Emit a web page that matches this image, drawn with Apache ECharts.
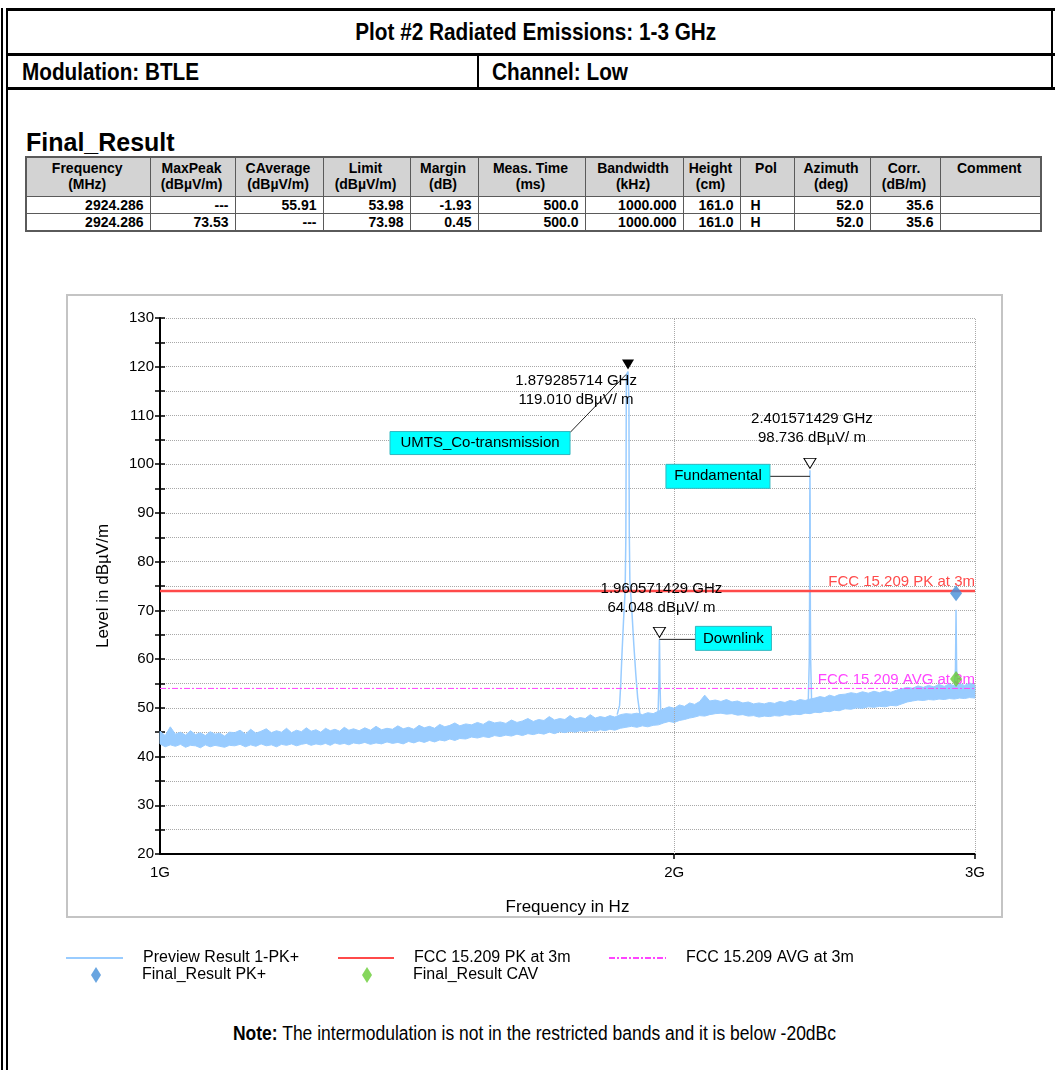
<!DOCTYPE html>
<html><head><meta charset="utf-8">
<script src="https://cdn.jsdelivr.net/npm/echarts@6/dist/echarts.min.js"></script>
<style>
html,body{margin:0;padding:0;background:#fff;}
body{width:1055px;height:1070px;position:relative;overflow:hidden;font-family:"Liberation Sans",Arial,sans-serif;color:#000;}
.abs{position:absolute;}
.bar{position:absolute;background:#000;}
.fit{display:inline-block;white-space:nowrap;}
#tbl{position:absolute;left:25px;top:156px;border-collapse:collapse;table-layout:fixed;font-weight:bold;font-size:14px;line-height:16px;border:2px solid #5a5a5a;}
#tbl td,#tbl th{border:1px solid #5a5a5a;padding:0 6px 0 4px;white-space:pre;overflow:hidden;}
#tbl th{background:#d3d3d3;text-align:center;vertical-align:top;height:36px;padding-top:2px;font-weight:bold;}
#tbl td{text-align:right;height:16px;}
#tbl td.l{text-align:left;padding-left:10px;}
</style></head><body>
<div class="bar" style="left:1px;top:8px;width:2px;height:1062px"></div>
<div class="bar" style="left:6px;top:8px;width:2px;height:1062px"></div>
<div class="bar" style="left:6px;top:8px;width:1049px;height:3px"></div>
<div class="bar" style="left:1051px;top:8px;width:2px;height:82px"></div>
<div class="abs" style="left:14px;top:11px;width:1043px;height:42px;line-height:42px;text-align:center;font-weight:bold;font-size:24px"><span class="fit" id="title" style="transform-origin:50% 50%"></span></div>
<div class="bar" style="left:6px;top:53px;width:1049px;height:3px"></div>
<div class="abs" style="left:22px;top:56px;height:31px;line-height:31px;font-weight:bold;font-size:24px"><span class="fit" id="mod" style="transform-origin:0 50%"></span></div>
<div class="bar" style="left:477px;top:56px;width:2px;height:32px"></div>
<div class="abs" style="left:492px;top:56px;height:31px;line-height:31px;font-weight:bold;font-size:24px"><span class="fit" id="chan" style="transform-origin:0 50%"></span></div>
<div class="bar" style="left:6px;top:87px;width:1049px;height:3px"></div>
<div class="abs" id="frTitle" style="left:26px;top:128px;font-weight:bold;font-size:25px;line-height:28px"></div>
<table id="tbl"></table>
<div id="chart" class="abs" style="left:0;top:280px;width:1055px;height:730px"></div>
<div class="abs" style="left:233px;top:1021px;font-size:20px;line-height:24px"><span class="fit" id="note" style="transform-origin:0 50%"></span></div>
<script>
// ---------- text content ----------
const titleText = 'Plot #2 Radiated Emissions: 1-3 GHz';
const modulationText = 'Modulation: BTLE';
const channelText = 'Channel: Low';
const finalResultTitle = 'Final_Result';
const noteBold = 'Note:';
const noteText = ' The intermodulation is not in the restricted bands and it is below -20dBc';

// ---------- Final_Result table ----------
const tableHeader = ['Frequency\n(MHz)','MaxPeak\n(dBµV/m)','CAverage\n(dBµV/m)','Limit\n(dBµV/m)','Margin\n(dB)','Meas. Time\n(ms)','Bandwidth\n(kHz)','Height\n(cm)','Pol','Azimuth\n(deg)','Corr.\n(dB/m)','Comment'];
const tableRows = [
  ['2924.286','---','55.91','53.98','-1.93','500.0','1000.000','161.0','H','52.0','35.6',''],
  ['2924.286','73.53','---','73.98','0.45','500.0','1000.000','161.0','H','52.0','35.6','']
];
const tableColWidths = [124,85,88,87,68,107,98,57,54,76,70,101];

// ---------- chart data ----------
// noise floor of "Preview Result 1-PK+" read as min/max envelope (MHz, dBµV/m)
const bandFreqMHz = [1000,1007,1014,1021,1028,1035,1042,1049,1056,1063,1070,1077,1084,1091,1098,
 1106,1114,1122,1130,1138,1146,1154,1162,1170,1178,1186,1194,1202,1210,1218,1226,1234,1242,1250,1258,1266,1274,1282,1290,1298,
 1308,1318,1328,1338,1348,1358,1368,1378,1388,1398,1408,1418,1428,1438,1448,1458,1468,1478,1488,1498,
 1510,1522,1534,1546,1558,1570,1582,1594,1606,1618,1630,1642,1654,1666,1678,1690,1702,1714,1726,1738,1750,1762,1774,1786,1798,1810,1822,1834,1846,
 1860,1874,1888,1902,1916,1930,1944,1958,1972,1986,2000,2014,2028,2042,2056,2070,2084,2098,
 2114,2130,2146,2162,2178,2194,2210,2226,2242,2258,2274,2290,2306,2322,2338,2354,2370,2386,2402,2418,2434,2450,2466,2482,2498,
 2518,2538,2558,2578,2598,2618,2638,2658,2678,2698,2718,2738,2758,2778,2798,2818,2838,2858,2878,2898,2918,2938,2958,2978,3000];
const bandLow = [42.6,42.0,42.4,42.1,42.5,41.9,42.3,42.2,41.8,42.4,42.0,42.3,42.1,41.9,42.3,
 42.2,42.5,42.0,42.4,42.1,42.6,42.2,42.4,42.0,42.5,42.3,42.6,42.2,42.5,42.7,42.3,42.6,42.4,42.7,42.3,42.8,42.5,42.7,42.4,42.8,
 42.6,42.9,42.5,42.8,42.6,43.0,42.7,42.9,42.6,43.1,42.8,43.2,42.9,43.3,43.0,43.4,43.2,43.6,43.3,43.7,
 43.6,44.0,43.8,44.1,43.9,44.3,44.1,44.4,44.2,44.6,44.3,44.7,44.5,44.8,44.6,45.0,44.7,45.1,44.9,45.2,45.0,45.3,45.1,45.4,45.2,45.5,45.3,45.6,45.4,
 45.8,46.0,46.2,46.0,46.3,46.1,46.4,46.5,46.9,47.2,47.0,47.4,47.6,47.9,48.1,48.4,48.3,48.6,
 48.8,48.9,48.7,48.8,48.5,48.6,48.3,48.4,48.1,48.3,48.2,48.4,48.3,48.6,48.5,48.7,48.6,48.9,48.8,49.1,49.0,49.3,49.2,49.5,49.4,
 49.8,49.7,50.0,49.9,50.2,50.1,50.3,50.2,50.5,50.4,50.8,51.2,51.4,51.6,51.5,51.7,51.6,51.8,51.7,51.9,51.8,52.0,51.9,52.1,52.0];
const bandHigh = [45.2,44.3,46.1,44.6,45.0,44.4,45.3,44.5,44.9,44.3,45.1,44.6,44.8,44.2,45.0,
 44.9,45.4,44.6,45.6,44.8,45.2,45.7,44.9,45.3,45.0,45.8,44.9,45.4,45.1,45.9,45.2,45.5,45.0,45.8,45.3,45.6,45.2,46.0,45.4,45.7,
 45.3,45.9,45.4,46.2,45.5,45.8,45.6,46.3,45.7,46.0,45.6,46.4,45.9,46.2,45.8,46.6,46.1,46.4,46.9,46.3,
 46.7,46.5,47.0,46.6,47.3,46.9,47.1,46.8,47.5,47.0,47.3,47.8,47.2,47.6,47.4,48.2,47.5,47.8,47.6,48.4,47.7,48.0,47.8,48.6,47.9,48.2,48.0,48.4,48.1,
 48.6,48.8,48.7,48.9,48.6,49.0,48.8,49.3,49.8,50.2,49.9,50.6,50.3,51.0,50.7,51.3,52.6,51.4,
 51.6,51.3,51.7,51.2,51.4,51.0,51.2,50.8,51.0,50.8,51.1,50.9,51.3,51.1,51.5,51.3,51.7,51.5,51.8,52.0,52.3,52.1,52.6,52.3,52.7,
 52.8,53.1,52.9,53.3,53.0,53.4,53.1,53.5,53.2,53.6,53.9,54.2,54.0,54.5,54.2,54.6,54.3,54.8,54.4,54.9,54.5,55.0,54.6,55.1,54.7];
// emissions rising out of the noise floor (MHz, dBµV/m)
const umtsTrace = [[1852,48.6],[1858,50.5],[1861,55],[1864,61],[1868,68],[1872,74],[1873.8,85],[1874.4,100],[1874.8,112],[1875.2,118.4],
 [1877,118.8],[1879.29,119.01],[1881,118.7],[1881.6,113],[1882,100],[1882.5,86],[1884,76],[1889,70],[1894,63],[1899,57],[1904,52],[1910,48.5]];
const downlinkTrace = [[1957,48.8],[1959.3,56],[1960.2,62.5],[1960.57,64.05],[1961,62.5],[1961.8,56],[1964,48.6]];
const fundamentalTrace = [[2396,50.8],[2399.5,60],[2400.4,72],[2401.0,92],[2401.57,98.74],[2402.2,92],[2402.8,72],[2403.8,60],[2407,51]];
const spurTrace = [[2918,54.3],[2922,58],[2923.6,66],[2924.3,70.1],[2925,66],[2926.6,58],[2930,54.5]];

// limits and final results
const pkLimit = 73.98;
const avgLimit = 53.98;
const finalPK = [[2924.286, 73.53]];
const finalCAV = [[2924.286, 55.91]];

// peak markers
const markerFreqMHz = [1879.285714, 2401.571429, 1960.571429];
const markerFreqText = ['1.879285714', '2.401571429', '1.960571429'];
const markerLevel = [119.010, 98.736, 64.048];
const markerTags = ['UMTS_Co-transmission', 'Fundamental', 'Downlink'];
const markerFilled = [true, false, false];

// axes
const yMin = 20, yMax = 130, yStep = 5;
const xMinMHz = 1000, xMaxMHz = 3000;
const xTickMHz = [1000, 2000, 3000];
const xTickLabels = ['1G', '2G', '3G'];

// ---------- HTML parts ----------
document.getElementById('title').textContent = titleText;
document.getElementById('mod').textContent = modulationText;
document.getElementById('chan').textContent = channelText;
document.getElementById('frTitle').textContent = finalResultTitle;
document.getElementById('note').innerHTML = '<b>' + noteBold + '</b>' + noteText;
// condense header / note text to the widths seen in the reference
[['title', 361], ['mod', 177], ['chan', 136], ['note', 603]].forEach(([id, target]) => {
  const el = document.getElementById(id);
  const w = el.getBoundingClientRect().width;
  el.style.transform = 'scaleX(' + (target / w) + ')';
});
(function buildTable(){
  const t = document.getElementById('tbl');
  let h = '<colgroup>' + tableColWidths.map(w => '<col style="width:' + w + 'px">').join('') + '</colgroup>';
  h += '<tr>' + tableHeader.map(c => '<th>' + c + '</th>').join('') + '</tr>';
  tableRows.forEach(r => {
    h += '<tr>' + r.map((c, i) => '<td' + (tableHeader[i] === 'Pol' ? ' class="l"' : '') + '>' + c + '</td>').join('') + '</tr>';
  });
  t.innerHTML = h;
})();

// ---------- chart ----------
const FONT = '"Liberation Sans", Arial, sans-serif';
const TRACE = '#99ccff';
const PKCOL = '#ff4a4a';
const AVGCOL = '#ff44ff';
const PREVIEW = 'Preview Result 1-PK+';

const chart = echarts.init(document.getElementById('chart'), null, {renderer: 'canvas'});

function peakSeries(data, withMarkers) {
  const s = {
    name: PREVIEW, type: 'line', data: data, symbol: 'none', showSymbol: false,
    lineStyle: {color: TRACE, width: 1.5}, itemStyle: {color: TRACE}, z: 3, animation: false
  };
  if (withMarkers) {
    s.markPoint = {
      animation: false, silent: true,
      label: {show: false},
      data: markerFreqMHz.map((f, i) => ({
        coord: [f, markerLevel[i]], symbol: 'triangle', symbolRotate: 180, symbolSize: [12, 10], symbolOffset: [0, -7],
        itemStyle: markerFilled[i] ? {color: '#000'} : {color: '#fff', borderColor: '#000', borderWidth: 1}
      }))
    };
  }
  return s;
}

const legendText = {fontSize: 16, color: '#000', fontFamily: FONT};
const legendBase = {orient: 'horizontal', padding: 0, selectedMode: false};
const option = {
  animation: false,
  textStyle: {fontFamily: FONT, color: '#000'},
  grid: {left: 160, top: 38, width: 815, height: 536},
  xAxis: {
    type: 'log', logBase: 10, min: xMinMHz, max: xMaxMHz,
    axisLine: {lineStyle: {color: '#000', width: 2}},
    axisTick: {show: true, customValues: xTickMHz.slice(1), length: 5, lineStyle: {color: '#000', width: 1.5}},
    axisLabel: {show: false},
    splitLine: {show: false},
    name: 'Frequency in Hz', nameLocation: 'middle', nameGap: 45,
    nameTextStyle: {fontSize: 17, color: '#000', fontFamily: FONT}
  },
  yAxis: [{
    type: 'value', min: yMin, max: yMax, interval: yStep,
    axisLine: {show: true, lineStyle: {color: '#000', width: 2}},
    axisTick: {show: true, length: 5, lineStyle: {color: '#000', width: 1.5}},
    axisLabel: {margin: 6, fontSize: 15, color: '#000', fontFamily: FONT, formatter: v => (v % 10 === 0 ? String(v) : '')},
    splitLine: {show: true, lineStyle: {color: '#a8a8a8', type: 'dotted', width: 1}},
    name: 'Level in dBµV/m', nameLocation: 'middle', nameGap: 48,
    nameTextStyle: {fontSize: 17, color: '#000', fontFamily: FONT}
  }, {
    type: 'value', min: yMin, max: yMax, interval: yStep, position: 'left',
    axisLine: {show: false},
    axisTick: {show: true, inside: true, length: 5, lineStyle: {color: '#000', width: 1.5}},
    axisLabel: {show: false}, splitLine: {show: false}
  }],
  legend: [
    Object.assign({data: [PREVIEW], left: 65, top: 670, itemWidth: 57, itemHeight: 14,
      itemStyle: {opacity: 0}, textStyle: Object.assign({padding: [0, 0, 0, 15]}, legendText)}, legendBase),
    Object.assign({data: ['FCC 15.209 PK at 3m'], left: 337, top: 670, itemWidth: 56, itemHeight: 14,
      itemStyle: {opacity: 0}, textStyle: Object.assign({padding: [0, 0, 0, 15]}, legendText)}, legendBase),
    Object.assign({data: ['FCC 15.209 AVG at 3m'], left: 608, top: 670, itemWidth: 57, itemHeight: 14,
      itemStyle: {opacity: 0}, textStyle: Object.assign({padding: [0, 0, 0, 15]}, legendText)}, legendBase),
    Object.assign({data: ['Final_Result PK+'], left: 91, top: 687, itemWidth: 10, itemHeight: 16,
      textStyle: Object.assign({padding: [0, 0, 0, 36]}, legendText)}, legendBase),
    Object.assign({data: ['Final_Result CAV'], left: 362, top: 687, itemWidth: 10, itemHeight: 16,
      textStyle: Object.assign({padding: [0, 0, 0, 36]}, legendText)}, legendBase)
  ],
  series: [
    peakSeries(umtsTrace, true),
    peakSeries(downlinkTrace, false),
    peakSeries(fundamentalTrace, false),
    peakSeries(spurTrace, false),
    {
      name: PREVIEW, type: 'custom', z: 2, animation: false, silent: true,
      data: bandFreqMHz.map((f, i) => [f, bandLow[i], bandHigh[i]]),
      encode: {x: 0, y: [1, 2]},
      renderItem: function (params, api) {
        if (params.dataIndexInside !== 0) return null;
        const n = params.dataInsideLength;
        const top = [], bottom = [];
        for (let j = 0; j < n; j++) {
          const f = api.value(0, j);
          top.push(api.coord([f, api.value(2, j)]));
          bottom.push(api.coord([f, api.value(1, j)]));
        }
        return {type: 'polygon', shape: {points: top.concat(bottom.reverse())},
                style: {fill: TRACE, stroke: TRACE, lineWidth: 1}};
      }
    },
    {
      name: 'FCC 15.209 PK at 3m', type: 'line', symbol: 'none', z: 4,
      data: [[xMinMHz, pkLimit], [xMaxMHz, pkLimit]],
      lineStyle: {color: PKCOL, width: 2.5}, itemStyle: {color: PKCOL},
      markPoint: {
        animation: false, silent: true,
        data: [{name: 'FCC 15.209 PK at 3m', coord: [xMaxMHz, pkLimit], symbol: 'rect', symbolSize: 1,
          itemStyle: {color: 'transparent'},
          label: {show: true, position: 'top', align: 'right', distance: 1, formatter: '{b}', color: PKCOL, fontSize: 15, fontFamily: FONT}}]
      }
    },
    {
      name: 'FCC 15.209 AVG at 3m', type: 'line', symbol: 'none', z: 4,
      data: [[xMinMHz, avgLimit], [xMaxMHz, avgLimit]],
      lineStyle: {color: AVGCOL, width: 1, type: [6, 2, 2, 2]}, itemStyle: {color: AVGCOL},
      markPoint: {
        animation: false, silent: true,
        data: [{name: 'FCC 15.209 AVG at 3m', coord: [xMaxMHz, avgLimit], symbol: 'rect', symbolSize: 1,
          itemStyle: {color: 'transparent'},
          label: {show: true, position: 'top', align: 'right', distance: 1, formatter: '{b}', color: AVGCOL, fontSize: 15, fontFamily: FONT}}]
      },
      markLine: {
        animation: false, silent: true, symbol: ['none', 'none'],
        lineStyle: {color: '#a8a8a8', type: 'dotted', width: 1},
        label: {show: true, position: 'start', distance: 11, formatter: '{b}', color: '#000', fontSize: 15, fontFamily: FONT},
        data: xTickMHz.map((v, i) => ({name: xTickLabels[i], xAxis: v, lineStyle: i === 0 ? {color: 'transparent'} : {}}))
      }
    },
    {
      name: 'Final_Result PK+', type: 'scatter', data: finalPK, symbol: 'diamond', symbolSize: [12, 16], z: 6,
      itemStyle: {color: '#448fd8'}
    },
    {
      name: 'Final_Result CAV', type: 'scatter', data: finalCAV, symbol: 'diamond', symbolSize: [12, 16], z: 6,
      itemStyle: {color: '#66cc33'}
    }
  ]
};
chart.setOption(option);

// annotation layout (pixel offsets relative to each marker point)
const annTextOffset = [[-52, 19], [2, -41.5], [2, -41.5]];
const annBox = [[-238, 60, 180, 23], [-144, -6, 104, 24], [36, -13, 76, 24]];
const annLink = [[-58, 61, -2, 3], [-40, 6, 0, 6], [0, 0, 36, 0]];

const g = [{
  type: 'rect', silent: true, z: -10,
  shape: {x: 67, y: 15, width: 935, height: 622},
  style: {fill: 'none', stroke: '#c4c4c4', lineWidth: 2}
}];
markerFreqMHz.forEach((f, i) => {
  const p = chart.convertToPixel({gridIndex: 0}, [f, markerLevel[i]]);
  const [tx, ty] = annTextOffset[i];
  const [bx, by, bw, bh] = annBox[i];
  const [l1x, l1y, l2x, l2y] = annLink[i];
  g.push({type: 'line', silent: true, z: 100,
    shape: {x1: p[0] + l1x, y1: p[1] + l1y, x2: p[0] + l2x, y2: p[1] + l2y},
    style: {stroke: '#222', lineWidth: 1}});
  g.push({type: 'text', silent: true, z: 101,
    style: {text: markerFreqText[i] + ' GHz\n' + markerLevel[i].toFixed(3) + ' dBµV/ m',
      x: p[0] + tx, y: p[1] + ty, align: 'center', verticalAlign: 'middle',
      fontSize: 15, fontFamily: FONT, lineHeight: 19, fill: '#000'}});
  g.push({type: 'rect', silent: true, z: 102,
    shape: {x: p[0] + bx, y: p[1] + by, width: bw, height: bh},
    style: {fill: '#00ffff', stroke: '#30b8c0', lineWidth: 1}});
  g.push({type: 'text', silent: true, z: 103,
    style: {text: markerTags[i], x: p[0] + bx + bw / 2, y: p[1] + by + bh / 2,
      align: 'center', verticalAlign: 'middle', fontSize: 15, fontFamily: FONT, fill: '#000'}});
});
chart.setOption({graphic: {elements: g}});
</script>
</body></html>
